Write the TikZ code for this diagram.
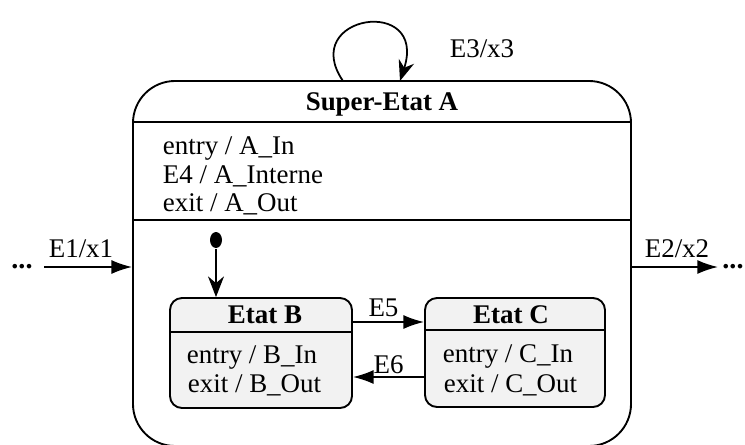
\documentclass[tikz,border=0pt]{standalone}
\usepackage{fontspec}
\setmainfont{Liberation Serif}
\usetikzlibrary{arrows.meta,shapes.geometric}
\definecolor{stategray}{HTML}{F2F2F2}
\tikzset{
  superstate/.style={draw,line width=1.6pt,rounded corners=1.26cm,
    minimum width=14.94cm,minimum height=10.95cm,inner sep=0pt},
  substate/.style={draw,line width=1.6pt,fill=stategray,rounded corners=0.36cm,
    minimum width=5.46cm,minimum height=3.3cm,inner sep=0pt},
  statename/.style={anchor=base,font=\fontsize{23}{27}\selectfont\bfseries},
  action/.style={anchor=base west,inner sep=0pt},
  etc/.style={anchor=base,inner sep=0pt,font=\fontsize{24}{28}\selectfont\bfseries},
}
\begin{document}
\begin{tikzpicture}[x=0.03cm,y=-0.03cm,>={Latex[length=0.62cm,width=0.42cm]},
    line width=1.5pt,font=\fontsize{23}{27}\selectfont]
    \useasboundingbox (0,0) rectangle (745,445);
    % super-etat A
    \path (382,263.5) node[superstate](A){};
    \path (382,110) node[statename](titleA){Super-Etat A};
    \coordinate (sepA1) at (0,122);
    \coordinate (sepA2) at (0,220);
    \draw (A.west |- sepA1) -- (A.east |- sepA1);
    \draw (A.west |- sepA2) -- (A.east |- sepA2);
    \path (162,154) node[action](entryA){entry / A\_In}
          (162,183) node[action](internA){E4 / A\_Interne}
          (162,211) node[action](exitA){exit / A\_Out};
    % sous-etats B et C
    \path (261,353) node[substate](B){};
    \path (515,352.5) node[substate,minimum width=5.4cm,minimum height=3.27cm](C){};
    \coordinate (sepB) at (0,332);
    \coordinate (sepC) at (0,330);
    \draw[line width=1.6pt] (B.west |- sepB) -- (B.east |- sepB);
    \draw[line width=1.6pt] (C.west |- sepC) -- (C.east |- sepC);
    \path (265,323) node[statename](titleB){Etat B};
    \path (511,323) node[statename](titleC){Etat C};
    \path (186,363) node[action](entryB){entry / B\_In}
          (187,392) node[action](exitB){exit / B\_Out};
    \path (442,362) node[action](entryC){entry / C\_In}
          (443,392) node[action](exitC){exit / C\_Out};
    % etat initial
    \path (216,240) node[ellipse,fill,inner sep=0pt,minimum width=0.36cm,minimum height=0.48cm](init){};
    \draw[-{Stealth[length=0.62cm,width=0.48cm]}] (init) -- (init |- B.north);
    % transitions internes
    \coordinate (e5) at (0,322);
    \coordinate (e6) at (0,377);
    \draw[->] (B.east |- e5) -- node[above,xshift=-0.15cm]{E5} (C.west |- e5);
    \draw[->] (C.west |- e6) -- node[above,inner sep=2pt]{E6} (B.east |- e6);
    % auto-transition
    \coordinate (loopout) at (343,81);
    \coordinate (loopin) at (400,81);
    \draw[-{Stealth[length=0.62cm,width=0.48cm]}] (loopout) .. controls (298,15) and (428,-5) .. (loopin);
    \path (482,57) node[anchor=base](E3){E3/x3};
    % entree et sortie
    \coordinate (e1s) at (44,267);
    \coordinate (e2e) at (718,267);
    \draw[->] (e1s) -- (e1s -| A.west);
    \draw[->] (e2e -| A.east) -- (e2e);
    \path (81,257) node[anchor=base](E1){E1/x1};
    \path (677,257) node[anchor=base](E2){E2/x2};
    \path (22,268) node[etc](dotsL){...};
    \path (733,268) node[etc](dotsR){...};
\end{tikzpicture}
\end{document}
